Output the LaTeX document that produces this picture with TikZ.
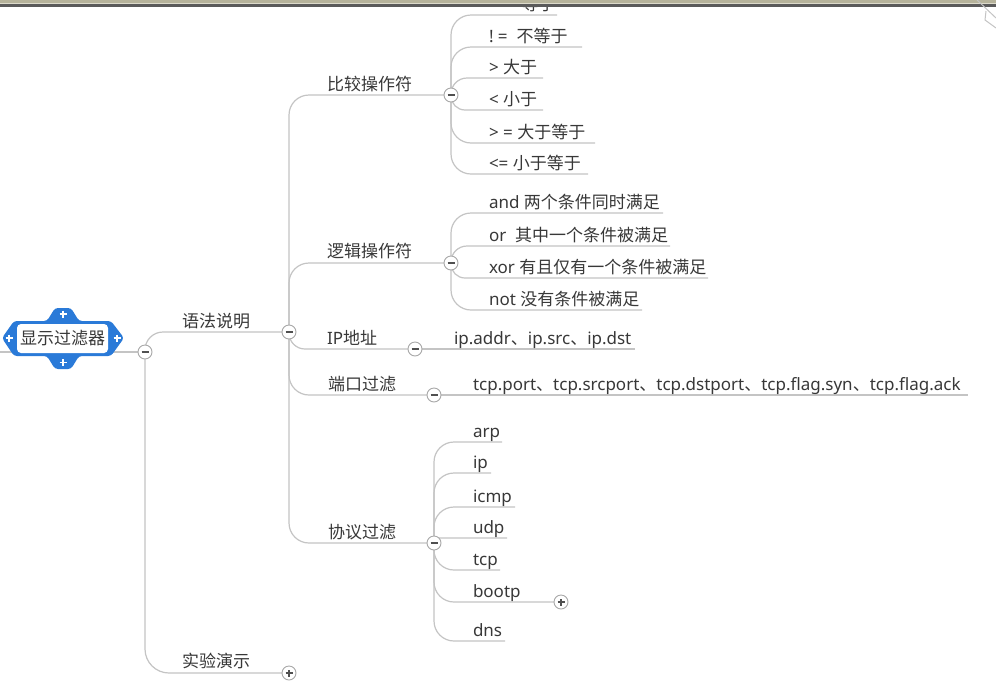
\documentclass[tikz,border=0pt]{standalone}
\usepackage{fontspec}
\setmainfont{Noto Sans}
\newfontfamily\zhfont{Noto Sans CJK SC}
\newcommand\zh[1]{{\zhfont #1}}
\usetikzlibrary{backgrounds}

\definecolor{linkgray}{HTML}{C4C4C4}
\definecolor{btngray}{HTML}{A8A8A8}
\definecolor{signgray}{HTML}{505050}
\definecolor{txt}{HTML}{383838}
\definecolor{rootblue}{HTML}{2A7AD8}
\definecolor{barolive}{HTML}{B6B39B}
\definecolor{barlight}{HTML}{DCDACB}
\definecolor{bardark}{HTML}{5A5A5A}

\tikzset{
  link/.style={draw=linkgray, line width=1.2pt, rounded corners=20pt},
  lbl/.style={anchor=base west, inner sep=0pt, outer sep=0pt, text=txt,
              font=\fontsize{17}{19}\selectfont},
  fold/.style={circle, draw=btngray, fill=white, line width=0.9pt,
               minimum size=14pt, inner sep=0pt},
  signpen/.style={draw=signgray, line width=1.2pt},
  minusbtn/.style={fold, path picture={
      \draw[signpen] ([xshift=-3.5pt]path picture bounding box.center)
                  -- ([xshift=3.5pt]path picture bounding box.center);}},
  plusbtn/.style={fold, path picture={
      \draw[signpen] ([xshift=-3.5pt]path picture bounding box.center)
                  -- ([xshift=3.5pt]path picture bounding box.center)
                     ([yshift=-3.5pt]path picture bounding box.center)
                  -- ([yshift=3.5pt]path picture bounding box.center);}},
  rootbox/.style={rounded corners=4pt, fill=white, inner sep=0pt,
                  minimum width=91pt, minimum height=29pt, text=txt,
                  font=\fontsize{17}{19}\selectfont\zhfont},
  whitesign/.style={draw=white, line width=1.8pt},
}

\begin{document}
\begin{tikzpicture}[x=1pt,y=-1pt]
\useasboundingbox (0,0) rectangle (996,686);
\clip (0,0) rectangle (996,686);

% ---- central topic with its selection frame ----
\fill[rootblue, rounded corners=3pt]
  (2,338) -- (14,321) -- (47,321) -- (55,308) -- (71,308) -- (79,321)
  -- (111,321) -- (124,338) -- (111,356) -- (79,356) -- (71,369)
  -- (55,369) -- (47,356) -- (14,356) -- cycle;
\node[rootbox] (root) at (62.5,338.5) {显示过滤器};
\draw[whitesign] (59.5,314) -- (66.5,314) (63,310.5) -- (63,317.5);
\draw[whitesign] (59.5,362.5) -- (66.5,362.5) (63,359) -- (63,366);
\draw[whitesign] (5.5,338) -- (12.5,338) (9,334.5) -- (9,341.5);
\draw[whitesign] (113.5,338) -- (120.5,338) (117,334.5) -- (117,341.5);
\coordinate (lft) at (0,352);

% ---- fold buttons ----
\node[minusbtn] (rootc) at (145,352) {};
\node[minusbtn] (syn)   at (289,332) {};
\node[minusbtn] (cmp)   at (451,95)  {};
\node[minusbtn] (log)   at (451,263) {};
\node[minusbtn] (ipc)   at (415,349) {};
\node[minusbtn] (port)  at (434,395) {};
\node[minusbtn] (proto) at (434,543) {};
\node[plusbtn]  (democ) at (289,673) {};
\node[plusbtn]  (bootc) at (561,602) {};

% ---- main branches ----
\node[lbl] (synt)   at (182,327) {\zh{语法说明}};
\node[lbl] (demot)  at (182,667) {\zh{实验演示}};
\node[lbl] (cmpt)   at (327,90)  {\zh{比较操作符}};
\node[lbl] (logt)   at (327,257) {\zh{逻辑操作符}};
\node[lbl] (ipt)    at (327,344) {IP\zh{地址}};
\node[lbl] (portt)  at (328,390) {\zh{端口过滤}};
\node[lbl] (protot) at (328,538) {\zh{协议过滤}};

% ---- comparison operators ----
\node[lbl] (eq) at (489,10)  {= =\ \ \zh{等于}};
\node[lbl] (ne) at (489,42)  {!\ =\ \ \zh{不等于}};
\node[lbl] (gt) at (489,73)  {> \zh{大于}};
\node[lbl] (lt) at (489,105) {< \zh{小于}};
\node[lbl] (ge) at (489,138) {> = \zh{大于等于}};
\node[lbl] (le) at (489,169) {<= \zh{小于等于}};
\coordinate (eq-e) at (557,15);
\coordinate (ne-e) at (582,47);
\coordinate (gt-e) at (543,78);
\coordinate (lt-e) at (543,110);
\coordinate (ge-e) at (595,143);
\coordinate (le-e) at (588,174);

% ---- logical operators ----
\node[lbl] (and) at (489,208) {and \zh{两个条件同时满足}};
\node[lbl] (or)  at (489,241) {or\ \ \zh{其中一个条件被满足}};
\node[lbl] (xor) at (489,273) {xor \zh{有且仅有一个条件被满足}};
\node[lbl] (not) at (489,305) {not \zh{没有条件被满足}};
\coordinate (and-e) at (663,213);
\coordinate (or-e)  at (670,246);
\coordinate (xor-e) at (708,278);
\coordinate (not-e) at (642,310);

% ---- address and port fields ----
\node[lbl] (ipf) at (454,344) {ip.addr\zh{、}ip.src\zh{、}ip.dst};
\node[lbl] (portf) at (473,390)
  {tcp.port\zh{、}tcp.srcport\zh{、}tcp.dstport\zh{、}tcp.flag.syn\zh{、}tcp.flag.ack};
\coordinate (ipf-e) at (635,349);
\coordinate (portf-e) at (968,395);

% ---- protocols ----
\node[lbl] (arp)   at (473,437) {arp};
\node[lbl] (ip)    at (473,468) {ip};
\node[lbl] (icmp)  at (473,502) {icmp};
\node[lbl] (udp)   at (473,533) {udp};
\node[lbl] (tcp)   at (473,565) {tcp};
\node[lbl] (bootp) at (473,597) {bootp};
\node[lbl] (dns)   at (473,636) {dns};
\coordinate (arp-e)  at (502,442);
\coordinate (ip-e)   at (491,473);
\coordinate (icmp-e) at (515,507);
\coordinate (udp-e)  at (507,538);
\coordinate (tcp-e)  at (500,570);
\coordinate (dns-e)  at (505,641);

% ---- paper and connectors, kept below the nodes ----
\begin{pgfonlayer}{background}
  \fill[white] (0,0) rectangle (996,686);
  \draw[link] (lft) -- (rootc.center);
  \draw[link, rounded corners=18pt] (rootc.center) |- (syn.center);
  \draw[link, rounded corners=24pt] (rootc.center) |- (democ.center);

  \draw[link] (syn.center) |- (cmp.center);
  \draw[link] (syn.center) |- (log.center);
  \draw[link, rounded corners=16pt] (syn.center) |- (ipc.center);
  \draw[link] (syn.center) |- (port.center);
  \draw[link] (syn.center) |- (proto.center);

  \draw[link] (cmp.center) |- (eq-e);
  \draw[link] (cmp.center) |- (ne-e);
  \draw[link, rounded corners=16pt] (cmp.center) |- (gt-e);
  \draw[link, rounded corners=14pt] (cmp.center) |- (lt-e);
  \draw[link] (cmp.center) |- (ge-e);
  \draw[link] (cmp.center) |- (le-e);

  \draw[link] (log.center) |- (and-e);
  \draw[link, rounded corners=16pt] (log.center) |- (or-e);
  \draw[link, rounded corners=14pt] (log.center) |- (xor-e);
  \draw[link] (log.center) |- (not-e);

  \draw[link] (ipc.center) -- (ipf-e);
  \draw[link] (port.center) -- (portf-e);

  \draw[link] (proto.center) |- (arp-e);
  \draw[link] (proto.center) |- (ip-e);
  \draw[link] (proto.center) |- (icmp-e);
  \draw[link, rounded corners=5pt] (proto.center) |- (udp-e);
  \draw[link] (proto.center) |- (tcp-e);
  \draw[link] (proto.center) |- (bootc.center);
  \draw[link] (proto.center) |- (dns-e);
\end{pgfonlayer}

% ---- window edge along the top ----
\fill[barolive] (0,0) rectangle (996,3);
\fill[barlight] (0,3) rectangle (996,4);
\fill[bardark] (0,4) rectangle (996,6.5);
\draw[linkgray, line width=1pt] (977,0) -- (996,18);
\draw[linkgray, line width=1pt] (986,11) -- (985,20) -- (996,28);
\end{tikzpicture}
\end{document}
